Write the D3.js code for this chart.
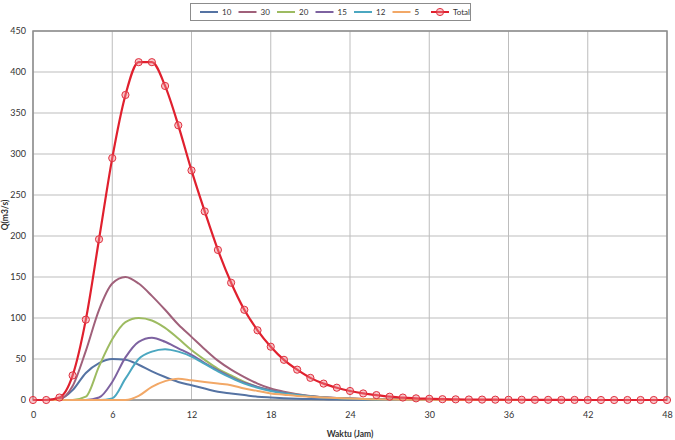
<!DOCTYPE html>
<html>
<head>
<meta charset="utf-8">
<script src="https://cdn.jsdelivr.net/npm/d3@7"></script>
<style>
  body { margin: 0; background: #fff; }
  text { font-family: Lato, "Liberation Sans", sans-serif; fill: #333; }
</style>
</head>
<body>
<div id="chart"></div>
<script>
// Hydrograph: debit per sub-DAS plus total

// Pt. 0 - DATA (hourly)

const hours = d3.range(0, 49);
const xTicks = [0, 6, 12, 18, 24, 30, 36, 42, 48];
const yTicks = [0, 50, 100, 150, 200, 250, 300, 350, 400, 450];

const seriesNames = ["10", "30", "20", "15", "12", "5"];
const seriesColors = ["#5573a3", "#a0607a", "#9dbb61", "#7d62a0", "#4ba7c0", "#f2a867"];

const q10 = [0, 0, 1, 12, 33, 45, 50, 49, 43, 35, 28, 22, 18, 14, 10, 8, 6, 4, 3, 2.2, 1.6, 1.1, 0.8, 0.5, 0.3, 0.2, 0.1,
  0, 0, 0, 0, 0, 0, 0, 0, 0, 0, 0, 0, 0, 0, 0, 0, 0, 0, 0, 0, 0, 0];
const q30 = [0, 0, 1, 17, 60, 110, 142, 150, 142, 127, 110, 92, 77, 62, 48, 37, 28, 20, 14, 10, 7, 5, 3.5, 2.5, 1.8, 1.3, 0.9,
  0.6, 0.4, 0.2, 0.1, 0, 0, 0, 0, 0, 0, 0, 0, 0, 0, 0, 0, 0, 0, 0, 0, 0, 0];
const q20 = [0, 0, 0, 0, 4, 41, 74, 95, 100, 97, 88, 75, 61, 49, 38, 30, 22, 16, 12, 9, 6.5, 4.5, 3.2, 2.3, 1.6, 1.1, 0.7,
  0.5, 0.3, 0.2, 0.1, 0, 0, 0, 0, 0, 0, 0, 0, 0, 0, 0, 0, 0, 0, 0, 0, 0, 0];
const q15 = [0, 0, 0, 0, 0, 3, 22, 52, 71, 76, 71, 63, 55, 45, 36, 28, 21, 16, 12, 9, 6.5, 4.7, 3.4, 2.4, 1.7, 1.2, 0.8,
  0.5, 0.3, 0.2, 0.1, 0, 0, 0, 0, 0, 0, 0, 0, 0, 0, 0, 0, 0, 0, 0, 0, 0, 0];
const q12 = [0, 0, 0, 0, 0, 0, 2, 26, 50, 59, 62, 59, 53, 44, 35, 27, 20, 15, 11, 8, 6, 4.3, 3.1, 2.2, 1.5, 1, 0.7,
  0.4, 0.3, 0.2, 0.1, 0, 0, 0, 0, 0, 0, 0, 0, 0, 0, 0, 0, 0, 0, 0, 0, 0, 0];
const q5 = [0, 0, 0, 0, 0, 0, 0, 0, 5, 16, 23, 26, 24, 22, 20, 18, 14, 11, 8, 6.5, 5, 4, 3, 2.3, 1.7, 1.2, 0.9,
  0.6, 0.4, 0.3, 0.2, 0.1, 0, 0, 0, 0, 0, 0, 0, 0, 0, 0, 0, 0, 0, 0, 0, 0, 0];
const qTotal = [0, 0, 3, 30, 98, 196, 295, 372, 412, 412, 383, 335, 280, 230, 183, 143, 110, 85, 65, 49, 37, 27, 20, 15, 11, 8, 6,
  4, 3, 2, 1.5, 1, 0.8, 0.6, 0.5, 0.4, 0.3, 0.3, 0.2, 0.2, 0.1, 0.1, 0, 0, 0, 0, 0, 0, 0];

const seriesValues = [q10, q30, q20, q15, q12, q5];

// Pt. 1 - LAYOUT

const width = 675,
      height = 440,
      margin = ({ top: 31, right: 8, bottom: 40, left: 33 });

let svg = d3.select("#chart")
    .append("svg")
    .attr("width", width)
    .attr("height", height);

let x = d3.scaleLinear()
    .domain([0, 48])
    .range([margin.left, width - margin.right]);

let y = d3.scaleLinear()
    .domain([0, 450])
    .range([height - margin.bottom, margin.top]);

// Pt. 2 - GRID + AXES

svg.append("g")
    .selectAll("line")
    .data(yTicks)
    .join("line")
    .attr("x1", margin.left).attr("x2", width - margin.right)
    .attr("y1", d => y(d)).attr("y2", d => y(d))
    .attr("stroke", "#bdbdbd");

svg.append("g")
    .selectAll("line")
    .data(xTicks)
    .join("line")
    .attr("x1", d => x(d)).attr("x2", d => x(d))
    .attr("y1", margin.top).attr("y2", height - margin.bottom)
    .attr("stroke", "#bdbdbd");

// frame round the plot area
svg.append("rect")
    .attr("x", margin.left).attr("y", margin.top)
    .attr("width", width - margin.left - margin.right)
    .attr("height", height - margin.top - margin.bottom)
    .attr("fill", "none")
    .attr("stroke", "#8c8c8c")
    .attr("stroke-width", 1.5);

let yAxis = svg.append("g")
    .attr("transform", `translate(${margin.left}, 0)`)
    .call(d3.axisLeft(y).tickValues(yTicks).tickSize(0).tickPadding(7));

let xAxis = svg.append("g")
    .attr("transform", `translate(0, ${height - margin.bottom})`)
    .call(d3.axisBottom(x).tickValues(xTicks).tickSize(0).tickPadding(12));

[xAxis, yAxis].forEach(g => {
    g.select(".domain").remove();
    g.selectAll("text").style("font-size", "9px").style("fill", "#333");
});

// axis titles
svg.append("text")
    .text("Waktu (Jam)")
    .attr("x", 350).attr("y", 437)
    .attr("text-anchor", "middle")
    .style("font-size", "8.5px")
    .style("font-weight", "bold");

svg.append("text")
    .text("Q(m3/s)")
    .attr("transform", "translate(8, 215) rotate(-90)")
    .attr("text-anchor", "middle")
    .style("font-size", "8.5px")
    .style("font-weight", "bold");

// Pt. 3 - LINES

let line = d3.line()
    .x((d, i) => x(hours[i]))
    .y(d => y(d))
    .curve(d3.curveMonotoneX);

svg.append("g")
    .selectAll("path")
    .data(seriesValues)
    .join("path")
    .attr("d", d => line(d))
    .attr("fill", "none")
    .attr("stroke", (d, i) => seriesColors[i])
    .attr("stroke-width", 2);

svg.append("path")
    .attr("d", line(qTotal))
    .attr("fill", "none")
    .attr("stroke", "#e0202e")
    .attr("stroke-width", 2.2);

svg.append("g")
    .selectAll("circle")
    .data(qTotal)
    .join("circle")
    .attr("cx", (d, i) => x(hours[i]))
    .attr("cy", d => y(d))
    .attr("r", 3.6)
    .attr("fill", "rgba(240, 130, 140, 0.45)")
    .attr("stroke", "#e0303e")
    .attr("stroke-width", 1);

// Pt. 4 - LEGEND

let legend = svg.append("g");

legend.append("rect")
    .attr("x", 190.5).attr("y", 3.5)
    .attr("width", 280).attr("height", 17)
    .attr("fill", "#fff")
    .attr("stroke", "#8c8c8c");

let items = legend.selectAll(".item")
    .data(seriesNames.concat(["Total"]))
    .join("g")
    .attr("class", "item")
    .attr("transform", (d, i) => `translate(${200 + i * 38.5}, 12)`);

items.append("line")
    .attr("x1", 0).attr("x2", 18)
    .attr("stroke", (d, i) => i < seriesColors.length ? seriesColors[i] : "#e0202e")
    .attr("stroke-width", 2);

items.filter(d => d === "Total")
    .append("circle")
    .attr("cx", 9).attr("r", 3.6)
    .attr("fill", "rgba(240, 130, 140, 0.45)")
    .attr("stroke", "#e0303e");

items.append("text")
    .text(d => d)
    .attr("x", 22)
    .attr("dy", "0.33em")
    .style("font-size", "8px");
</script>
</body>
</html>
